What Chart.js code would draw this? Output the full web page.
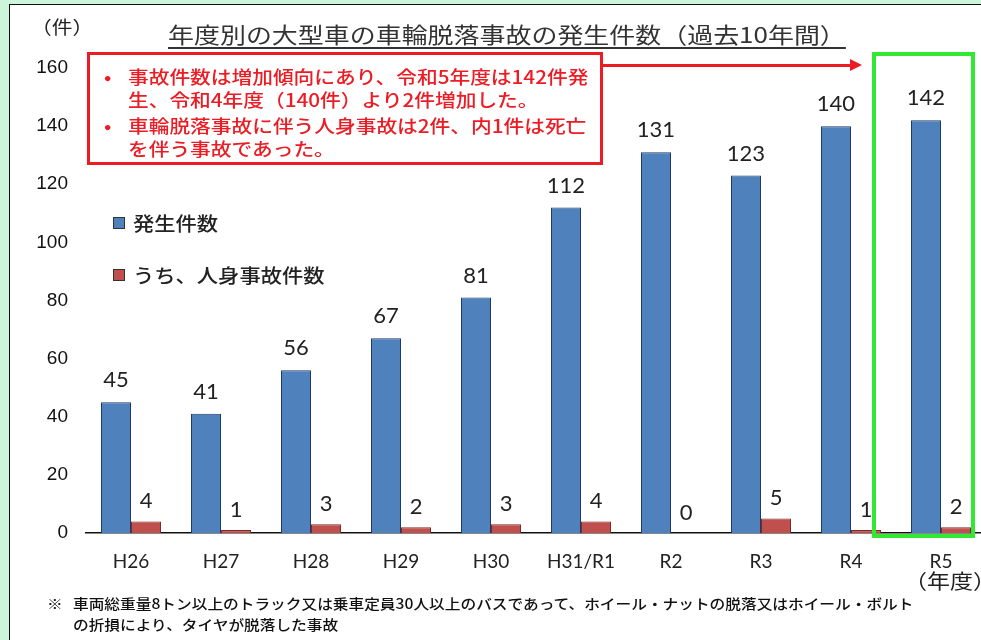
<!DOCTYPE html>
<html lang="ja">
<head>
<meta charset="utf-8">
<script src="https://cdn.jsdelivr.net/npm/chart.js@4.4.1/dist/chart.umd.min.js"></script>
<style>
  html, body { margin: 0; padding: 0; }
  body { width: 981px; height: 640px; overflow: hidden; background: #ccf5dc; position: relative; font-family: "Noto Sans CJK JP", sans-serif; }
  #panel { position: absolute; left: 9px; top: 4px; width: 1000px; height: 700px; background: #fff; border: 1.5px solid #111; }
  #chart { position: absolute; left: 0; top: 0; }
  .txt { position: absolute; white-space: nowrap; transform-origin: 0 50%; }
  .red { color: #ec1c24; font-size: 18px; line-height: 18px; font-weight: 500; transform: scaleX(1.15); }
  .note { color: #111; font-size: 14px; line-height: 14px; font-weight: 500; transform: scaleX(1.12); }
</style>
</head>
<body>
<div id="panel"></div>
<canvas id="chart" width="1000" height="640"></canvas>

<!-- title and unit -->
<div class="txt" style="left:168px; top:22px; font-size:22px; line-height:22px; color:#333; transform:scaleX(1.18); text-decoration:underline; text-underline-offset:4px; text-decoration-thickness:1.5px;">年度別の大型車の車輪脱落事故の発生件数（過去10年間）</div>
<div class="txt" style="left:31px; top:17px; font-size:18px; line-height:18px; color:#222; transform:scaleX(1.15);">（件）</div>

<!-- callout -->
<div style="position:absolute; left:87px; top:52px; width:516px; height:113px; box-sizing:border-box; border:3px solid #ec1c24;"></div>
<div class="txt red" style="left:104px; top:67px;">•</div>
<div class="txt red" style="left:128px; top:67px;">事故件数は増加傾向にあり、令和5年度は142件発</div>
<div class="txt red" style="left:128px; top:90px;">生、令和4年度（140件）より2件増加した。</div>
<div class="txt red" style="left:104px; top:116px;">•</div>
<div class="txt red" style="left:128px; top:116px;">車輪脱落事故に伴う人身事故は2件、内1件は死亡</div>
<div class="txt red" style="left:128px; top:139px;">を伴う事故であった。</div>

<!-- arrow to R5 -->
<div style="position:absolute; left:603px; top:63.5px; width:249px; height:3px; background:#ec1c24;"></div>
<div style="position:absolute; left:850px; top:59px; width:0; height:0; border-left:12px solid #ec1c24; border-top:6px solid transparent; border-bottom:6px solid transparent;"></div>

<!-- highlight R5 -->
<div style="position:absolute; left:872px; top:52px; width:103px; height:486px; box-sizing:border-box; border:4px solid #33e833;"></div>

<div class="txt" style="left:904px; top:571px; font-size:20px; line-height:20px; color:#222; transform:scaleX(1.15);">（年度）</div>

<!-- footnote -->
<div class="txt note" style="left:47px; top:596px;">※</div>
<div class="txt note" style="left:73px; top:596px;">車両総重量8トン以上のトラック又は乗車定員30人以上のバスであって、ホイール・ナットの脱落又はホイール・ボルト</div>
<div class="txt note" style="left:73px; top:617px;">の折損により、タイヤが脱落した事故</div>

<script>
// data
const years = ['H26', 'H27', 'H28', 'H29', 'H30', 'H31/R1', 'R2', 'R3', 'R4', 'R5'];
const totalCases = [45, 41, 56, 67, 81, 112, 131, 123, 140, 142];
const injuryCases = [4, 1, 3, 2, 3, 4, 0, 5, 1, 2];
const seriesNames = ['発生件数', 'うち、人身事故件数'];

//Numbers over each bar
const barLabels = {
	id: 'barLabels',
	afterDatasetsDraw(chart) {
		const ctx = chart.ctx;
		ctx.save();
		ctx.font = '22px Lato';
		ctx.fillStyle = '#222';
		ctx.textAlign = 'center';
		chart.data.datasets.forEach((ds, i) => {
			chart.getDatasetMeta(i).data.forEach((bar, j) => {
				ctx.fillText(ds.data[j], bar.x, bar.y - (i === 0 ? 15 : 13));
			});
		});
		ctx.restore();
	}
};

//Legend inside the plot, top left
const innerLegend = {
	id: 'innerLegend',
	afterDraw(chart) {
		const ctx = chart.ctx;
		ctx.save();
		chart.data.datasets.forEach((ds, i) => {
			const y = 223 + i * 52;
			ctx.fillStyle = ds.backgroundColor;
			ctx.strokeStyle = '#333';
			ctx.lineWidth = 1;
			ctx.fillRect(113, y - 6, 12, 12);
			ctx.strokeRect(113.5, y - 5.5, 11, 11);
			ctx.translate(133, y);
			ctx.scale(1.12, 1);
			ctx.font = '500 19px "Noto Sans CJK JP"';
			ctx.fillStyle = '#222';
			ctx.textBaseline = 'middle';
			ctx.fillText(ds.label, 0, 1);
			ctx.setTransform(1, 0, 0, 1, 0, 0);
		});
		ctx.restore();
	}
};

function draw() {
	new Chart('chart', {
		type: 'bar',
		data: {
			labels: years,
			datasets: [{
				label: seriesNames[0],
				data: totalCases,
				backgroundColor: '#4f81bd',
				borderColor: '#1f3a63',
				borderWidth: 1
			}, {
				label: seriesNames[1],
				data: injuryCases,
				backgroundColor: '#c0504d',
				borderColor: '#7d2b28',
				borderWidth: 1
			}]
		},
		options: {
			responsive: false,
			animation: false,
			layout: { padding: { top: 68, right: 14, bottom: 0, left: 0 } },
			categoryPercentage: 0.667,
			barPercentage: 1,
			plugins: {
				legend: { display: false },
				tooltip: { enabled: false }
			},
			scales: {
				x: {
					grid: { display: false, drawTicks: false },
					border: { display: true, color: '#111', width: 1.5 },
					ticks: { font: { family: 'Lato', size: 19 }, color: '#222', padding: 17, maxRotation: 0 },
					afterFit: (s) => { s.height = 107; }
				},
				y: {
					min: 0,
					max: 160,
					grid: { display: false, drawTicks: false },
					border: { display: false },
					ticks: { stepSize: 20, font: { family: 'Liberation Sans', size: 19 }, color: '#111', padding: 18 },
					afterFit: (s) => { s.width = 86; }
				}
			}
		},
		plugins: [barLabels, innerLegend]
	});
}

Promise.all([
	document.fonts.load('22px Lato'),
	document.fonts.load('19px "Liberation Sans"'),
	document.fonts.load('500 19px "Noto Sans CJK JP"', '発生件数')
]).then(draw, draw);
</script>
</body>
</html>
